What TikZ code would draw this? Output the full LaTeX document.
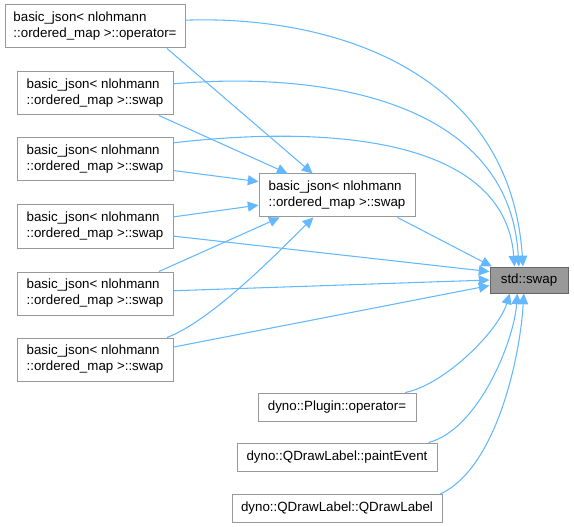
\documentclass[tikz,border=0pt]{standalone}
\usepackage{fontspec}
\setmainfont{Liberation Sans}
\usepackage{tikz}
\usetikzlibrary{arrows.meta}
\definecolor{edgeblue}{HTML}{63B8FF}
\definecolor{boxline}{HTML}{999999}
\definecolor{rootfill}{HTML}{999999}
\definecolor{rootline}{HTML}{666666}

\begin{document}
\begin{tikzpicture}[
  x=0.75pt, y=-0.75pt,
  fnbox/.style   = {draw=boxline, fill=white, line width=0.75pt, align=left,
                    inner sep=0pt, font=\fontsize{10}{12}\selectfont},
  jsonbox/.style = {fnbox, minimum width=117pt, minimum height=32.25pt},
  dynobox/.style = {fnbox, minimum height=21pt},
  rootbox/.style = {fnbox, draw=rootline, fill=rootfill,
                    minimum width=58.5pt, minimum height=19.5pt},
  call/.style    = {draw=edgeblue, line width=0.8pt,
                    -{Triangle[length=8pt, width=7.5pt]}},
]
\useasboundingbox (0,0) rectangle (574,527);

% callers on the left
\node[fnbox, minimum width=135pt, minimum height=32.25pt] (opeq) at (95,26.5)
  {basic\_json< nlohmann\\::ordered\_map >::operator=};
\foreach \n/\y in {1/93.5, 2/159.5, 3/226.5, 4/293.5, 5/359.5}{
  \node[jsonbox] (sw\n) at (95,\y) {basic\_json< nlohmann\\::ordered\_map >::swap};
}

\node[jsonbox] (mid) at (337,195.5) {basic\_json< nlohmann\\::ordered\_map >::swap};
\node[rootbox] (std) at (529,280) {std::swap};

\node[dynobox, minimum width=118.5pt] (plug)  at (337,407)   {dyno::Plugin::operator=};
\node[dynobox, minimum width=150pt]   (paint) at (337,457)   {dyno::QDrawLabel::paintEvent};
\node[dynobox, minimum width=157.5pt] (qdraw) at (337,508.5) {dyno::QDrawLabel::QDrawLabel};

% edges into the middle swap
\foreach \src/\a/\b in {opeq/-17.8/138.1, sw1/-19.7/156.3, sw2/-8.4/170.9,
                        sw3/7.7/187.7, sw4/19.7/201.3}{
  \draw[call] (\src.\a) -- (mid.\b);
}
\draw[call] (sw5.17.8) .. controls +(48,-18) and +(-24,23) .. (mid.223.1);

% edges into std::swap
\draw[call] (opeq.4.1) .. controls +(145,-5) and +(-13,-197) .. (std.114.8);
\draw[call] (sw1.7.7) .. controls +(147,-13) and +(-9,-167) .. (std.127.6);
\draw[call] (sw2.12.7) .. controls +(147,-17) and +(-10,-132) .. (std.137.1);
\foreach \src/\a/\b in {mid/-20.3/160.1, sw3/-7/168.4, sw4/2.6/180, sw5/9.8/188.7}{
  \draw[call] (\src.\a) -- (std.\b);
}
\draw[call] (plug.12.5) .. controls +(40,-8) and +(-11,37) .. (std.215.8);
\draw[call] (paint.9.6) .. controls +(50,-13) and +(-3,47) .. (std.229.8);
\draw[call] (qdraw.8.7) .. controls +(55,-25) and +(-4,67) .. (std.249);

\end{tikzpicture}
\end{document}
